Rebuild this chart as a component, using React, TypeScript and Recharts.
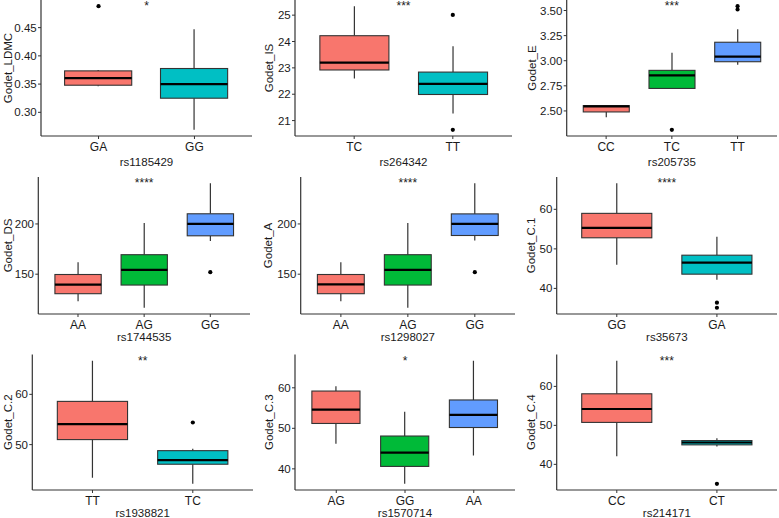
import React from "react";
import { ComposedChart, Bar, Scatter, XAxis, YAxis, ReferenceDot } from "recharts";

// box stats per genotype: [lower whisker, Q1, median, Q3, upper whisker]
// outliers: [genotype index, value]

const ldmcGenotypes = ["GA", "GG"];
const ldmcBoxes = [
	[0.346, 0.348, 0.3605, 0.3734, 0.375],
	[0.269, 0.325, 0.35, 0.3776, 0.447],
];
const ldmcOutliers = [[0, 0.488]];
const ldmcTicks = [0.3, 0.35, 0.4, 0.45];

const isGenotypes = ["TC", "TT"];
const isBoxes = [
	[22.6, 22.92, 23.2, 24.22, 25.34],
	[21.27, 21.99, 22.39, 22.84, 23.82],
];
const isOutliers = [
	[1, 25.01],
	[1, 20.65],
];
const isTicks = [21, 22, 23, 24, 25];

const eGenotypes = ["CC", "TC", "TT"];
const eBoxes = [
	[2.437, 2.49, 2.545, 2.553, 2.553],
	[2.724, 2.724, 2.855, 2.904, 3.079],
	[2.96, 2.99, 3.04, 3.184, 3.314],
];
const eOutliers = [
	[1, 2.312],
	[2, 3.543],
	[2, 3.51],
];
const eTicks = [2.5, 2.75, 3.0, 3.25, 3.5];

const dsGenotypes = ["AA", "AG", "GG"];
const dsBoxes = [
	[123.2, 130.6, 139.6, 149.7, 161.8],
	[116.6, 139.2, 154.3, 169.4, 201],
	[183.1, 188.2, 200, 210.1, 240.5],
];
const dsOutliers = [[2, 152]];
const dsTicks = [150, 200];

const aGenotypes = ["AA", "AG", "GG"];
const aBoxes = [
	[123.2, 130.6, 139.9, 149.7, 161.8],
	[116.6, 139.2, 154.3, 169.4, 201],
	[183.4, 188.5, 200, 210, 240.5],
];
const aOutliers = [[2, 152]];
const aTicks = [150, 200];

const c1Genotypes = ["GG", "GA"];
const c1Boxes = [
	[46.0, 52.8, 55.3, 58.98, 66.6],
	[42.2, 43.6, 46.5, 48.4, 53.05],
];
const c1Outliers = [
	[1, 36.4],
	[1, 35.1],
];
const c1Ticks = [40, 50, 60];

const c2Genotypes = ["TT", "TC"];
const c2Boxes = [
	[43.4, 51.0, 54.07, 58.6, 66.7],
	[42.2, 46.1, 46.9, 48.8, 49.2],
];
const c2Outliers = [[1, 54.4]];
const c2Ticks = [50, 60];

const c3Genotypes = ["AG", "GG", "AA"];
const c3Boxes = [
	[46.2, 51.2, 54.6, 59.2, 60.4],
	[36.3, 40.6, 44.0, 48.1, 54.07],
	[43.3, 50.2, 53.3, 57.0, 66.7],
];
const c3Outliers: number[][] = [];
const c3Ticks = [40, 50, 60];

const c4Genotypes = ["CC", "CT"];
const c4Boxes = [
	[42.1, 50.76, 54.2, 58.1, 66.6],
	[44.6, 45.0, 45.6, 46.1, 46.7],
];
const c4Outliers = [[1, 35.0]];
const c4Ticks = [40, 50, 60];

const panels = [
	{ trait: "Godet_LDMC", snp: "rs1185429", genotypes: ldmcGenotypes, boxes: ldmcBoxes, outliers: ldmcOutliers, yTicks: ldmcTicks, digits: 2, stars: "*" },
	{ trait: "Godet_IS", snp: "rs264342", genotypes: isGenotypes, boxes: isBoxes, outliers: isOutliers, yTicks: isTicks, digits: 0, stars: "***" },
	{ trait: "Godet_E", snp: "rs205735", genotypes: eGenotypes, boxes: eBoxes, outliers: eOutliers, yTicks: eTicks, digits: 2, stars: "***" },
	{ trait: "Godet_DS", snp: "rs1744535", genotypes: dsGenotypes, boxes: dsBoxes, outliers: dsOutliers, yTicks: dsTicks, digits: 0, stars: "****" },
	{ trait: "Godet_A", snp: "rs1298027", genotypes: aGenotypes, boxes: aBoxes, outliers: aOutliers, yTicks: aTicks, digits: 0, stars: "****" },
	{ trait: "Godet_C.1", snp: "rs35673", genotypes: c1Genotypes, boxes: c1Boxes, outliers: c1Outliers, yTicks: c1Ticks, digits: 0, stars: "****" },
	{ trait: "Godet_C.2", snp: "rs1938821", genotypes: c2Genotypes, boxes: c2Boxes, outliers: c2Outliers, yTicks: c2Ticks, digits: 0, stars: "**" },
	{ trait: "Godet_C.3", snp: "rs1570714", genotypes: c3Genotypes, boxes: c3Boxes, outliers: c3Outliers, yTicks: c3Ticks, digits: 0, stars: "*" },
	{ trait: "Godet_C.4", snp: "rs214171", genotypes: c4Genotypes, boxes: c4Boxes, outliers: c4Outliers, yTicks: c4Ticks, digits: 0, stars: "***" },
];

const TWO_FILLS = ["#F8766D", "#00BFC4"];
const THREE_FILLS = ["#F8766D", "#00BA38", "#619CFF"];

// grid geometry: rows share vertical layout, each panel has its own horizontal one
// titleX is the y-title centre, measured from the panel's left edge
const ROWS = [
	{ top: 0, plotTop: 0, plotBottom: 136, axisH: 30 },
	{ top: 170, plotTop: 177, plotBottom: 314, axisH: 27 },
	{ top: 345, plotTop: 354.5, plotBottom: 490, axisH: 27 },
];
const FRAMES = [
	{ x: 0, plotLeft: 41, plotRight: 252, titleX: 7.5 },
	{ x: 260, plotLeft: 295, plotRight: 512, titleX: 8.5 },
	{ x: 520, plotLeft: 566.7, plotRight: 777, titleX: 11.5 },
	{ x: 0, plotLeft: 38.3, plotRight: 250, titleX: 7.5 },
	{ x: 260, plotLeft: 300.7, plotRight: 515, titleX: 8.3 },
	{ x: 520, plotLeft: 556.7, plotRight: 777, titleX: 11 },
	{ x: 0, plotLeft: 32.3, plotRight: 253, titleX: 7.5 },
	{ x: 260, plotLeft: 295, plotRight: 515, titleX: 8.7 },
	{ x: 520, plotLeft: 556.7, plotRight: 777, titleX: 11 },
];

const INK = "#1a1a1a";
const LINE = "#333333";

// whiskers, box and median, drawn inside the bar spanning [lower, upper] whisker
const BoxShape = (props: any) => {
	const { x, y, width, height, payload } = props;
	const [lo, q1, med, q3, hi] = payload.stats;
	const top = Math.min(y, y + height);
	const bottom = Math.max(y, y + height);
	const py = (v: number) => (hi === lo ? top : top + ((hi - v) / (hi - lo)) * (bottom - top));
	const cx = x + width / 2;
	return (
		<g>
			<line x1={cx} x2={cx} y1={py(hi)} y2={py(q3)} stroke={LINE} strokeWidth={1.2} />
			<line x1={cx} x2={cx} y1={py(q1)} y2={py(lo)} stroke={LINE} strokeWidth={1.2} />
			<rect x={x} y={py(q3)} width={width} height={py(q1) - py(q3)} fill={payload.color} stroke={LINE} strokeWidth={1.1} />
			<line x1={x} x2={x + width} y1={py(med)} y2={py(med)} stroke="#000" strokeWidth={2.2} />
		</g>
	);
};

const OutlierDot = (props: any) => <circle cx={props.cx} cy={props.cy} r={2.1} fill="#000" />;

function GenotypePanel({ panel, frame, row }: { panel: any; frame: any; row: any }) {
	const n = panel.genotypes.length;
	const palette = n === 3 ? THREE_FILLS : TWO_FILLS;
	const values = panel.boxes.flat().concat(panel.outliers.map((o: number[]) => o[1]));
	const vMin = Math.min(...values);
	const vMax = Math.max(...values);
	const pad = (vMax - vMin) * 0.05;

	const rows = panel.boxes.map((s: number[], i: number) => ({
		x: i + 1,
		range: [s[0], s[4]],
		stats: s,
		color: palette[i],
	}));
	const points = panel.outliers.map(([i, v]: number[]) => ({ x: i + 1, y: v }));

	const plotW = frame.plotRight - frame.plotLeft;
	const barSize = (0.7 * plotW) / (n + 0.2);
	const marginTop = row.plotTop - row.top;
	const width = frame.plotRight - frame.x + 4;
	const height = marginTop + (row.plotBottom - row.plotTop) + row.axisH + 4;
	const xTicks = panel.genotypes.map((_: string, i: number) => i + 1);

	return (
		<div style={{ position: "absolute", left: frame.x, top: row.top }}>
			<ComposedChart width={width} height={height} data={rows} margin={{ top: marginTop, right: 4, bottom: 4, left: 0 }}>
				<XAxis
					dataKey="x"
					type="number"
					domain={[0.4, n + 0.6]}
					ticks={xTicks}
					interval={0}
					allowDataOverflow
					tickFormatter={(v: number) => panel.genotypes[v - 1]}
					height={row.axisH}
					tickSize={3}
					tickMargin={3}
					axisLine={{ stroke: LINE, strokeWidth: 1.2 }}
					tickLine={{ stroke: LINE }}
					tick={{ fontSize: 12, fill: INK }}
					label={{ value: panel.snp, position: "insideBottom", offset: 0, fontSize: 11.5, fill: INK }}
				/>
				<YAxis
					type="number"
					domain={[vMin - pad, vMax + pad]}
					ticks={panel.yTicks}
					allowDataOverflow
					interval={0}
					tickFormatter={(v: number) => v.toFixed(panel.digits)}
					width={frame.plotLeft - frame.x}
					tickSize={3}
					tickMargin={1.3}
					axisLine={{ stroke: LINE, strokeWidth: 1.2 }}
					tickLine={{ stroke: LINE }}
					tick={{ fontSize: 11.5, fill: INK }}
					label={{
						value: panel.trait,
						angle: -90,
						position: "insideLeft",
						offset: frame.titleX,
						fontSize: 11.5,
						fill: INK,
						style: { textAnchor: "middle" },
					}}
				/>
				<Bar dataKey="range" barSize={barSize} shape={<BoxShape />} isAnimationActive={false} />
				<Scatter data={points} dataKey="y" shape={<OutlierDot />} isAnimationActive={false} />
				<ReferenceDot
					x={(n + 1) / 2}
					y={vMax}
					r={0}
					fill="none"
					stroke="none"
					label={{ value: panel.stars, position: "center", fontSize: 12, fill: INK }}
				/>
			</ComposedChart>
		</div>
	);
}

export default function App() {
	return (
		<div
			style={{
				position: "absolute",
				left: 0,
				top: 0,
				width: 779,
				height: 518,
				overflow: "hidden",
				background: "#fff",
				fontFamily: "'Liberation Sans', Arial, sans-serif",
			}}
		>
			{panels.map((p, i) => (
				<GenotypePanel key={p.snp} panel={p} frame={FRAMES[i]} row={ROWS[Math.floor(i / 3)]} />
			))}
		</div>
	);
}
